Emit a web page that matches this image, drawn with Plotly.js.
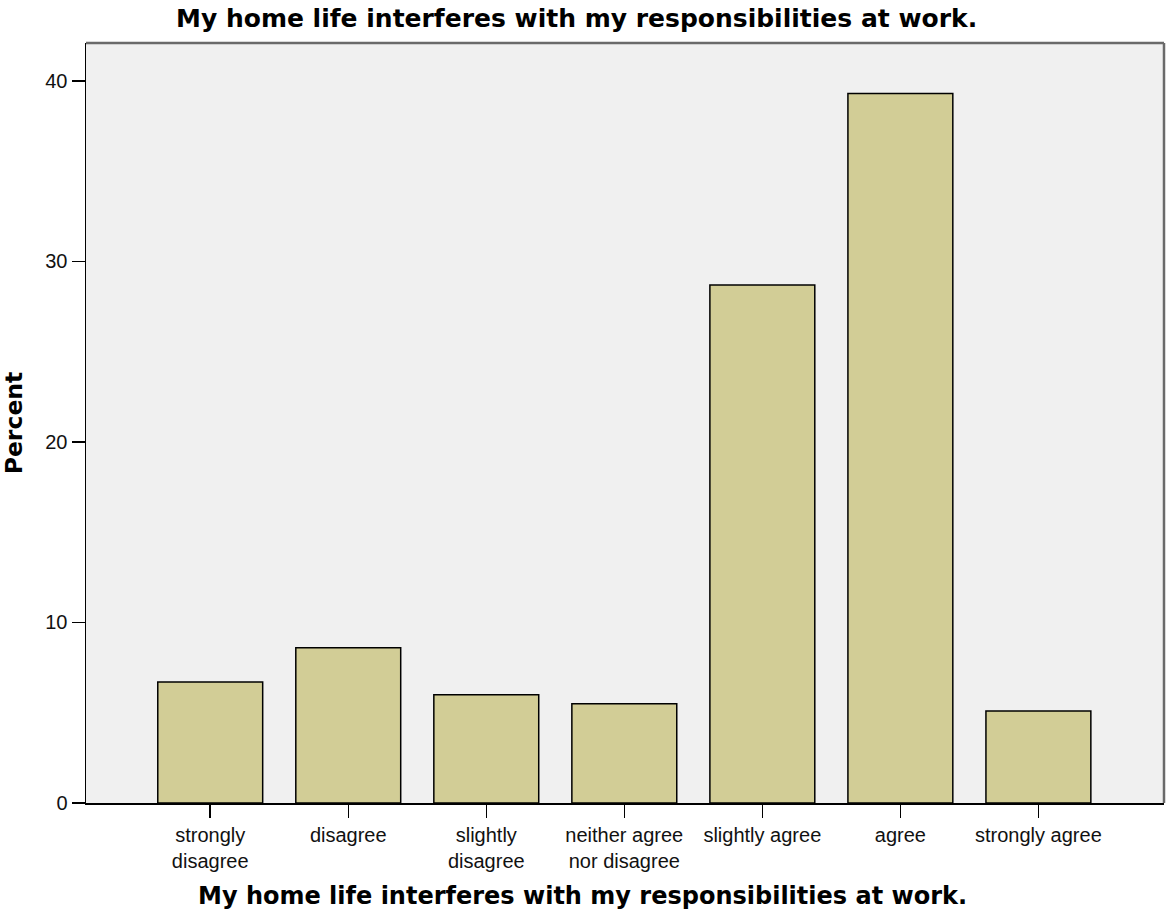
<!DOCTYPE html>
<html>
<head>
<meta charset="utf-8">
<script src="https://cdn.plot.ly/plotly-3.0.1.min.js"></script>
<style>html,body{margin:0;padding:0;background:#fff;}#chart{width:1166px;height:911px;}</style>
</head>
<body>
<div id="chart"></div>
<script>
const chartTitle = 'My home life interferes with my responsibilities at work.';
const categories = ['strongly<br>disagree', 'disagree', 'slightly<br>disagree', 'neither agree<br>nor disagree', 'slightly agree', 'agree', 'strongly agree'];
const percents = [6.7, 8.6, 6.0, 5.5, 28.7, 39.3, 5.1];
const yTickValues = [0, 10, 20, 30, 40];
const yLabel = 'Percent';

const trace = {
  type: 'bar',
  x: categories,
  y: percents,
  marker: {color: '#d2cd96', line: {color: '#000000', width: 1.5}},
  hoverinfo: 'x+y'
};

const layout = {
  width: 1166, height: 911,
  margin: {l: 86, r: 2, t: 43, b: 108},
  paper_bgcolor: '#ffffff',
  plot_bgcolor: '#f0f0f0',
  showlegend: false,
  bargap: 0.24,
  font: {family: 'Liberation Sans, Arial, sans-serif', color: '#111'},
  title: {
    text: chartTitle,
    font: {family: 'DejaVu Sans, sans-serif', size: 25, weight: 'bold', color: '#000'},
    xref: 'container', x: 0.4945, xanchor: 'center',
    yref: 'container', y: 0.980, yanchor: 'middle'
  },
  xaxis: {
    type: 'category',
    range: [-0.9, 6.91],
    showline: true, linecolor: '#000', linewidth: 1.5,
    ticks: 'outside', ticklen: 13, tickwidth: 1.5, tickcolor: '#000',
    tickfont: {size: 20, color: '#111'},
    showgrid: false, zeroline: false, fixedrange: true
  },
  yaxis: {
    range: [0, 42.1],
    tickvals: yTickValues,
    showline: true, linecolor: '#000', linewidth: 1.5,
    ticks: 'outside', ticklen: 13, tickwidth: 1.5, tickcolor: '#000',
    tickfont: {size: 20, color: '#111'},
    showgrid: false, zeroline: false, fixedrange: true,
    title: {text: yLabel, font: {family: 'DejaVu Sans, sans-serif', size: 23.5, weight: 'bold', color: '#000'}, standoff: 20}
  },
  annotations: [{
    text: chartTitle,
    xref: 'paper', yref: 'paper',
    x: 0.461, y: -0.122, xanchor: 'center', yanchor: 'middle',
    showarrow: false,
    font: {family: 'DejaVu Sans, sans-serif', size: 24, weight: 'bold', color: '#000'}
  }],
  shapes: [
    {type: 'line', xref: 'paper', yref: 'paper', x0: 0, x1: 1, y0: 1, y1: 1, line: {color: '#6a6a6a', width: 2.5}},
    {type: 'line', xref: 'paper', yref: 'paper', x0: 1, x1: 1, y0: 0, y1: 1, line: {color: '#6a6a6a', width: 2.5}}
  ]
};

Plotly.newPlot('chart', [trace], layout, {displayModeBar: false, staticPlot: true});
</script>
</body>
</html>
